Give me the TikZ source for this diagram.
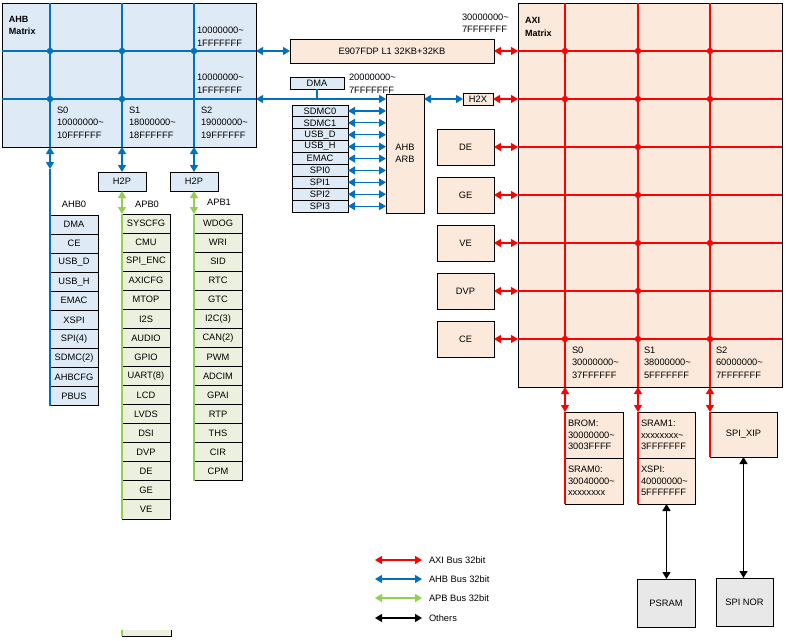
\documentclass[tikz,border=0pt]{standalone}
\usepackage{fontspec}
\setmainfont{Liberation Sans}
\usetikzlibrary{arrows.meta}
\definecolor{ahbblue}{HTML}{0070C0}
\definecolor{axired}{HTML}{FF0000}
\definecolor{apbgreen}{HTML}{92D050}
\definecolor{bluefill}{HTML}{DEEBF7}
\definecolor{ahbmat}{HTML}{DEEAF6}
\definecolor{peach}{HTML}{FBE9DB}
\definecolor{greenfill}{HTML}{EBF1DE}
\definecolor{grayfill}{HTML}{E8E8E8}
\begin{document}
\begin{tikzpicture}[x=1pt,y=-1pt,
  >={Triangle[length=7pt,width=8pt]},
  every node/.style={inner sep=0pt, outer sep=0pt, font=\fontsize{9.3}{11}\selectfont},
  box/.style={draw=black, line width=0.9pt, anchor=north west},
  lbl/.style={anchor=west, align=left, font=\fontsize{9.3}{12.5}\selectfont},
  ttl/.style={anchor=west, align=left, font=\bfseries\fontsize{9}{12.5}\selectfont},
  bline/.style={draw=ahbblue, line width=1.2pt},
  rline/.style={draw=axired, line width=1.2pt},
  gline/.style={draw=apbgreen, line width=1.4pt},
  kline/.style={draw=black, line width=1.2pt},
  barr/.style={bline, <->},
  rarr/.style={rline, <->},
  garr/.style={gline, <->},
  karr/.style={kline, <->},
  bdot/.style={fill=ahbblue},
  rdot/.style={fill=axired}
]
\useasboundingbox (0,0) rectangle (787,640);

% ---------------- AHB matrix ----------------
\node[box, fill=ahbmat, minimum width=254, minimum height=144] (ahbm) at (2,3) {};
\foreach \yy in {51,99} \draw[bline] (2,\yy) -- (256,\yy);
\foreach \xx in {50,122,194} \draw[bline] (\xx,3) -- (\xx,147);
\foreach \p in {(50,51),(122,51),(194,51),(50,99),(122,99)} \fill[bdot] \p circle (3.2);
\node[ttl] (ahbt) at (9,25.5) {AHB\\Matrix};
\node[lbl] (ahbr1) at (197,37) {10000000\textasciitilde\\1FFFFFFF};
\node[lbl] (ahbr2) at (197,84) {10000000\textasciitilde\\1FFFFFFF};
\node[lbl] (ahbs0) at (57,122.5) {S0\\10000000\textasciitilde\\10FFFFFF};
\node[lbl] (ahbs1) at (129,122.5) {S1\\18000000\textasciitilde\\18FFFFFF};
\node[lbl] (ahbs2) at (201,122.5) {S2\\19000000\textasciitilde\\19FFFFFF};

% ---------------- H2P bridges ----------------
\node[box, fill=bluefill, minimum width=48, minimum height=19] (h2pa) at (98,172) {H2P};
\node[box, fill=bluefill, minimum width=48, minimum height=19] (h2pb) at (170,172) {H2P};

% ---------------- AHB0 / APB0 / APB1 columns ----------------
\node (lahb0) at (74,204) {AHB0};
\node (lapb0) at (147,204) {APB0};
\node (lapb1) at (219,202) {APB1};
\foreach \t [count=\i from 0] in {DMA,CE,USB\_D,USB\_H,EMAC,XSPI,SPI(4),SDMC(2),AHBCFG,PBUS}
  \node[box, fill=bluefill, minimum width=48, minimum height=19.06] (ahbz\i) at (50,{215+19.06*\i}) {\t};
\foreach \t [count=\i from 0] in {SYSCFG,CMU,SPI\_ENC,AXICFG,MTOP,I2S,AUDIO,GPIO,UART(8),LCD,LVDS,DSI,DVP,DE,GE,VE}
  \node[box, fill=greenfill, minimum width=48, minimum height=19.06] (apba\i) at (122,{214+19.06*\i}) {\t};
\foreach \t [count=\i from 0] in {WDOG,WRI,SID,RTC,GTC,I2C(3),CAN(2),PWM,ADCIM,GPAI,RTP,THS,CIR,CPM}
  \node[box, fill=greenfill, minimum width=48, minimum height=19.06] (apbb\i) at (194,{214+19.06*\i}) {\t};
% stray cell fragment at bottom
\fill[greenfill] (122,630) rectangle (171,636);
\draw[line width=0.9pt] (171,630) -- (171,636) -- (122,636);
\draw[gline] (122,630) -- (122,636);

\coordinate (ahb0top) at (50,169);
\draw[barr] (ahbm.south -| ahb0top) -- (ahb0top);
\draw[bline] (ahb0top) -- (ahbz9.south west);
\draw[barr] (ahbm.south -| h2pa.north) -- (h2pa.north);
\draw[barr] (ahbm.south -| h2pb.north) -- (h2pb.north);
\draw[garr] (h2pa.south) -- (apba0.north west);
\draw[gline] (apba0.north west) -- (apba15.south west);
\draw[garr] (h2pb.south) -- (apbb0.north west);
\draw[gline] (apbb0.north west) -- (apbb13.south west);

% ---------------- centre: E907, DMA, ARB ----------------
\node[box, fill=peach, minimum width=204, minimum height=24] (e907) at (290,39) {E907FDP L1 32KB+32KB};
\node[lbl] (axiaddr) at (462,23.5) {30000000\textasciitilde\\7FFFFFFF};
\node[box, fill=bluefill, minimum width=54, minimum height=12] (dma) at (290,77) {DMA};
\node[lbl] (dmaaddr) at (349,84) {20000000\textasciitilde\\7FFFFFFF};
\node[box, fill=peach, minimum width=38, minimum height=119, align=center, font=\fontsize{9.3}{12.5}\selectfont] (arb) at (386,94) {AHB\\ARB};
\node[box, fill=peach, minimum width=30, minimum height=12] (h2x) at (463,93) {H2X};

\foreach \t [count=\i from 0] in {SDMC0,SDMC1,USB\_D,USB\_H,EMAC,SPI0,SPI1,SPI2,SPI3}{
  \node[box, fill=bluefill, minimum width=56, minimum height=11.9] (m\i) at (292,{105+11.9*\i}) {\t};
  \draw[barr] (m\i.east) -- (m\i.east -| arb.west);
}

\draw[barr] (e907.west -| ahbm.east) -- (e907.west);
\draw[barr] (ahbm.east |- h2x.west) -- (arb.west |- h2x.west);
\draw[bline] (dma.south) -- (dma.south |- h2x.west);
\draw[barr] (arb.east |- h2x.west) -- (h2x.west);

% ---------------- AXI matrix ----------------
\node[box, fill=peach, minimum width=264, minimum height=384] (axim) at (518,3) {};
\foreach \yy in {51,99,147,195,243,291,339} \draw[rline] (518,\yy) -- (782,\yy);
\foreach \xx in {565,638,710} \draw[rline] (\xx,3) -- (\xx,387);
\foreach \p in {(565,51),(638,51),(710,51),(565,99),(638,99),(710,99),(638,147),(638,195),(638,243),(710,243),(638,291),(565,339),(638,339),(710,339)}
  \fill[rdot] \p circle (3.2);
\node[ttl] (axit) at (525,27) {AXI\\Matrix};
\node[lbl] (axis0) at (572,362.5) {S0\\30000000\textasciitilde\\37FFFFFF};
\node[lbl] (axis1) at (644,362.5) {S1\\38000000\textasciitilde\\5FFFFFFF};
\node[lbl] (axis2) at (716,362.5) {S2\\60000000\textasciitilde\\7FFFFFFF};

\draw[rarr] (e907.east) -- (e907.east -| axim.west);
\draw[rarr] (h2x.east) -- (h2x.east -| axim.west);

\foreach \t [count=\i from 0] in {DE,GE,VE,DVP,CE}{
  \node[box, fill=peach, minimum width=57, minimum height=36] (ms\i) at (437,{129+48*\i}) {\t};
  \draw[rarr] (ms\i.east) -- (ms\i.east -| axim.west);
}

% ---------------- slaves ----------------
\tikzset{slave/.style={box, fill=peach, minimum width=58, minimum height=46, align=left, text width=52, inner xsep=3pt, font=\fontsize{9.3}{11.5}\selectfont}}
\node[slave] (brom) at (565,412) {BROM:\\30000000\textasciitilde\\3003FFFF};
\node[slave] (sram0) at (565,458) {SRAM0:\\30040000\textasciitilde\\xxxxxxxx};
\node[slave, minimum width=57, text width=51] (sram1) at (638,412) {SRAM1:\\xxxxxxxx\textasciitilde\\3FFFFFFF};
\node[slave, minimum width=57, text width=51] (xspi) at (638,458) {XSPI:\\40000000\textasciitilde\\5FFFFFFF};
\node[box, fill=peach, minimum width=67, minimum height=45] (xip) at (710,412) {SPI\_XIP};
\node[box, fill=grayfill, minimum width=58, minimum height=48] (psram) at (637,579) {PSRAM};
\node[box, fill=grayfill, minimum width=57, minimum height=48] (spinor) at (716,578) {SPI NOR};

\draw[rarr] (brom.north west |- axim.south) -- (brom.north west);
\draw[rline] (brom.north west) -- (sram0.south west);
\draw[rarr] (sram1.north west |- axim.south) -- (sram1.north west);
\draw[rline] (sram1.north west) -- (xspi.south west);
\draw[rarr] (xip.north west |- axim.south) -- (xip.north west);
\draw[rline] (xip.north west) -- (xip.south west);

\draw[karr] (xspi.south) -- (xspi.south |- psram.north);
\draw[karr] (xip.south) -- (xip.south |- spinor.north);

% ---------------- legend ----------------
\coordinate (lg1a) at (375,560); \coordinate (lg1b) at (422,560);
\coordinate (lg2a) at (375,579); \coordinate (lg2b) at (422,579);
\coordinate (lg3a) at (375,598); \coordinate (lg3b) at (422,598);
\coordinate (lg4a) at (375,618); \coordinate (lg4b) at (422,618);
\draw[rarr] (lg1a) -- (lg1b);
\draw[barr] (lg2a) -- (lg2b);
\draw[garr] (lg3a) -- (lg3b);
\draw[karr] (lg4a) -- (lg4b);
\node[anchor=west] (lt1) at (429,560) {AXI Bus 32bit};
\node[anchor=west] (lt2) at (429,579) {AHB Bus 32bit};
\node[anchor=west] (lt3) at (429,598) {APB Bus 32bit};
\node[anchor=west] (lt4) at (429,618) {Others};
\end{tikzpicture}
\end{document}
